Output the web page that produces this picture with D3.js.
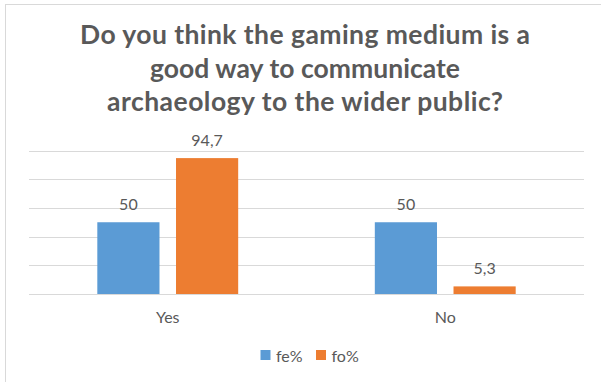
<!DOCTYPE html>
<html>
<head>
<meta charset="utf-8">
<script src="https://cdn.jsdelivr.net/npm/d3@7"></script>
<style>
  html, body { margin: 0; padding: 0; background: #fff; }
  svg { display: block; }
  text { font-family: Lato, "Open Sans", sans-serif; fill: #595959; }
</style>
</head>
<body>
<svg id="chart" width="601" height="382"></svg>
<script>
// Survey answers, in percent
const categories = ["Yes", "No"];
const seriesNames = ["fe%", "fo%"];
const feValues = [50, 50];
const foValues = [94.7, 5.3];
const yTicks = [0, 20, 40, 60, 80, 100];
const titleLines = [
  "Do you think the gaming medium is a",
  "good way to communicate",
  "archaeology to the wider public?"
];
const titleWidths = [450, 310, 396];

const colors = { "fe%": "#5b9bd5", "fo%": "#ed7d31" };
const seriesValues = { "fe%": feValues, "fo%": foValues };

const svg = d3.select("#chart");

// chart area frame
svg.append("rect")
  .attr("x", 5.5).attr("y", 4.5)
  .attr("width", 800).attr("height", 600)
  .attr("fill", "none")
  .attr("stroke", "#d9d9d9")
  .attr("stroke-width", 1);

// title
const title = svg.append("text")
  .attr("text-anchor", "middle")
  .attr("font-weight", "bold")
  .attr("font-size", 26.5);
titleLines.forEach((line, i) => {
  title.append("tspan")
    .attr("x", 305)
    .attr("y", 44 + i * 33.5)
    .attr("textLength", titleWidths[i])
    .attr("lengthAdjust", "spacing")
    .text(line);
});

const plot = { left: 29, right: 584, top: 150.5, bottom: 294 };

const y = d3.scaleLinear()
  .domain([0, 100])
  .range([plot.bottom, plot.top]);

const x0 = d3.scaleBand()
  .domain(categories)
  .range([plot.left, plot.right])
  .padding(0);

const x1 = d3.scaleBand()
  .domain(seriesNames)
  .range([0, x0.bandwidth()])
  .paddingInner(0.21)
  .paddingOuter(0.868);

// horizontal gridlines
svg.append("g")
  .selectAll("line")
  .data(yTicks)
  .join("line")
  .attr("x1", plot.left).attr("x2", plot.right)
  .attr("y1", d => Math.round(y(d)) + 0.5)
  .attr("y2", d => Math.round(y(d)) + 0.5)
  .attr("stroke", "#d9d9d9")
  .attr("stroke-width", 1);

// bars
const rows = [];
categories.forEach((c, i) => {
  seriesNames.forEach(s => rows.push({ cat: c, series: s, value: seriesValues[s][i] }));
});

svg.append("g")
  .selectAll("rect")
  .data(rows)
  .join("rect")
  .attr("x", d => x0(d.cat) + x1(d.series))
  .attr("y", d => y(d.value))
  .attr("width", x1.bandwidth())
  .attr("height", d => y(0) - y(d.value))
  .attr("fill", d => colors[d.series]);

// value labels
const fmt = v => String(v).replace(".", ",");
svg.append("g")
  .selectAll("text")
  .data(rows)
  .join("text")
  .attr("x", d => x0(d.cat) + x1(d.series) + x1.bandwidth() / 2)
  .attr("y", d => y(d.value) - 12.5)
  .attr("text-anchor", "middle")
  .attr("font-size", 16)
  .text(d => fmt(d.value));

// category axis labels
svg.append("g")
  .selectAll("text")
  .data(categories)
  .join("text")
  .attr("x", d => x0(d) + x0.bandwidth() / 2)
  .attr("y", 323)
  .attr("text-anchor", "middle")
  .attr("font-size", 16)
  .text(d => d);

// legend
const legendX = d3.scaleOrdinal().domain(seriesNames).range([260.5, 316]);
const legend = svg.append("g")
  .selectAll("g")
  .data(seriesNames)
  .join("g")
  .attr("transform", d => `translate(${legendX(d)},350)`);
legend.append("rect")
  .attr("width", 10).attr("height", 10)
  .attr("fill", d => colors[d]);
legend.append("text")
  .attr("x", 15.5)
  .attr("y", 11.5)
  .attr("font-size", 16)
  .text(d => d);
</script>
</body>
</html>
